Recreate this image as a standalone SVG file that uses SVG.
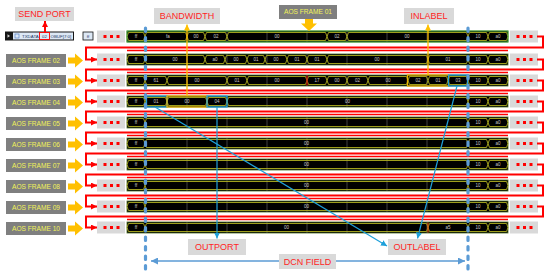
<svg xmlns="http://www.w3.org/2000/svg" width="550" height="280" viewBox="0 0 550 280">
<defs>
<style>
.lbl{fill:#D9D9D9}
.lt{font-family:"Liberation Sans",Arial,sans-serif;font-size:9px;fill:#FF1F1F;text-anchor:middle}
.frame{fill:#7F7F7F}
.ft{font-family:"Liberation Sans",Arial,sans-serif;font-size:6.6px;fill:#F2F25A;text-anchor:middle}
.oarrow{fill:#FFC000}
.sq{fill:#FF0000}
.band{fill:#000;stroke:#4A6B1F;stroke-width:0.8}
.grid{stroke:#5A5A5A;stroke-width:0.7}
.bus{fill:none;stroke:#B0B020;stroke-width:0.9}
.v{font-family:"Liberation Sans",Arial,sans-serif;font-size:4.5px;fill:#C8C8C8;text-anchor:middle}
.tx{font-family:"Liberation Sans",Arial,sans-serif;font-size:4.4px;fill:#1F3864}
.loop{fill:none;stroke:#FF0000;stroke-width:2}
.red2{stroke:#FF0000;stroke-width:1.6}
.dash{stroke:#5B9BD5;stroke-width:3.2;stroke-dasharray:3.5 6;stroke-linecap:round;fill:none}
.hlY{fill:none;stroke:#E8B000;stroke-width:1.3}
.hlB{fill:none;stroke:#1E9FD8;stroke-width:1.3}
.gold{fill:none;stroke:#FFC000;stroke-width:1.3}
.cyan{fill:none;stroke:#1EA0DA;stroke-width:1.2}
.dcn{fill:none;stroke:#5B9BD5;stroke-width:1.5}
</style>
<marker id="mRed" markerWidth="6" markerHeight="6" refX="6" refY="3" orient="auto" markerUnits="userSpaceOnUse"><path d="M0,0 L6,3 L0,6 z" fill="#FF0000"/></marker>
<marker id="mGold" markerWidth="6" markerHeight="6" refX="6" refY="3" orient="auto" markerUnits="userSpaceOnUse"><path d="M0,0 L6,3 L0,6 z" fill="#FFC000"/></marker>
<marker id="mCyan" markerWidth="6" markerHeight="6" refX="6" refY="3" orient="auto" markerUnits="userSpaceOnUse"><path d="M0,0 L6,3 L0,6 z" fill="#1EA0DA"/></marker>
<marker id="mBlue" markerWidth="7" markerHeight="7" refX="7" refY="3.5" orient="auto" markerUnits="userSpaceOnUse"><path d="M0,0 L7,3.5 L0,7 z" fill="#5B9BD5"/></marker>
<g id="dots"><rect class="lbl" x="0" y="-6" width="28" height="12"/><rect class="sq" x="6.5" y="-1.5" width="3" height="3"/><rect class="sq" x="13" y="-1.5" width="3" height="3"/><rect class="sq" x="19.5" y="-1.5" width="3" height="3"/></g>
<path id="oarr" class="oarrow" d="M-15,-3 h7 v-4 l8,7 l-8,7 v-4 h-7 z"/>
<rect id="fbox" class="frame" x="6" y="-6.5" width="60" height="13"/>
<g id="rowBase">
<rect class="band" x="127" y="-5.5" width="381" height="11"/>
<path class="grid" d="M187,-5.5v11M227,-5.5v11M267,-5.5v11M307,-5.5v11M347,-5.5v11M387,-5.5v11M427,-5.5v11"/>
<polygon class="bus" points="127,0 128.5,-4 143.5,-4 145,0 143.5,4 128.5,4"/>
<polygon class="bus" points="468,0 469.5,-4 486.5,-4 488,0 486.5,4 469.5,4"/>
<polygon class="bus" points="488,0 489.5,-4 506.5,-4 508,0 506.5,4 489.5,4"/>
<text class="v" x="136" y="1.6">ff</text>
<text class="v" x="478" y="1.6">10</text>
<text class="v" x="498" y="1.6">a0</text>
</g>
<g id="rowPlain">
<use href="#rowBase"/>
<polygon class="bus" points="145,0 146.5,-4 466.5,-4 468,0 466.5,4 146.5,4"/>
<text class="v" x="306.5" y="1.6">00</text>
</g>
</defs>

<rect x="0" y="0" width="550" height="280" fill="#FFFFFF"/>

<!-- waveform rows -->
<g id="row01" transform="translate(0,36.5)">
<use href="#rowBase"/>
<rect x="127" y="-5.5" width="381" height="11" fill="none" stroke="#3DAA3D" stroke-width="0.9"/>
<polygon class="bus" points="145,0 146.5,-4 185.5,-4 187,0 185.5,4 146.5,4"/>
<polygon class="bus" points="187,0 188.5,-4 203.5,-4 205,0 203.5,4 188.5,4"/>
<polygon class="bus" points="205,0 206.5,-4 225.5,-4 227,0 225.5,4 206.5,4"/>
<polygon class="bus" points="227,0 228.5,-4 325.5,-4 327,0 325.5,4 228.5,4"/>
<polygon class="bus" points="327,0 328.5,-4 345.5,-4 347,0 345.5,4 328.5,4"/>
<polygon class="bus" points="347,0 348.5,-4 466.5,-4 468,0 466.5,4 348.5,4"/>
<text class="v" x="168" y="1.6">fa</text>
<text class="v" x="196" y="1.6">00</text>
<text class="v" x="216" y="1.6">02</text>
<text class="v" x="277" y="1.6">00</text>
<text class="v" x="337" y="1.6">02</text>
<text class="v" x="407" y="1.6">00</text>
</g>
<g id="row02" transform="translate(0,59.5)">
<use href="#rowBase"/>
<polygon class="bus" points="145,0 146.5,-4 203.5,-4 205,0 203.5,4 146.5,4"/>
<polygon class="bus" points="205,0 206.5,-4 223.5,-4 225,0 223.5,4 206.5,4"/>
<polygon class="bus" points="225,0 226.5,-4 245.5,-4 247,0 245.5,4 226.5,4"/>
<polygon class="bus" points="247,0 248.5,-4 263.5,-4 265,0 263.5,4 248.5,4"/>
<polygon class="bus" points="265,0 266.5,-4 285.5,-4 287,0 285.5,4 266.5,4"/>
<polygon class="bus" points="287,0 288.5,-4 305.5,-4 307,0 305.5,4 288.5,4"/>
<polygon class="bus" points="307,0 308.5,-4 325.5,-4 327,0 325.5,4 308.5,4"/>
<polygon class="bus" points="327,0 328.5,-4 426.5,-4 428,0 426.5,4 328.5,4"/>
<polygon class="bus" points="428,0 429.5,-4 466.5,-4 468,0 466.5,4 429.5,4"/>
<text class="v" x="175" y="1.6">00</text>
<text class="v" x="215" y="1.6">a0</text>
<text class="v" x="236" y="1.6">00</text>
<text class="v" x="256" y="1.6">01</text>
<text class="v" x="276" y="1.6">00</text>
<text class="v" x="297" y="1.6">01</text>
<text class="v" x="317" y="1.6">01</text>
<text class="v" x="377" y="1.6">00</text>
<text class="v" x="448" y="1.6">01</text>
</g>
<g id="row03" transform="translate(0,80.5)">
<use href="#rowBase"/>
<polygon class="bus" points="145,0 146.5,-4 165.5,-4 167,0 165.5,4 146.5,4"/>
<polygon class="bus" points="167,0 168.5,-4 225.5,-4 227,0 225.5,4 168.5,4"/>
<polygon class="bus" points="227,0 228.5,-4 245.5,-4 247,0 245.5,4 228.5,4"/>
<polygon class="bus" points="247,0 248.5,-4 305.5,-4 307,0 305.5,4 248.5,4"/>
<polygon class="bus" points="307,0 308.5,-4 325.5,-4 327,0 325.5,4 308.5,4"/>
<polygon class="bus" points="327,0 328.5,-4 345.5,-4 347,0 345.5,4 328.5,4"/>
<polygon class="bus" points="347,0 348.5,-4 366.5,-4 368,0 366.5,4 348.5,4"/>
<polygon class="bus" points="368,0 369.5,-4 406.5,-4 408,0 406.5,4 369.5,4"/>
<polygon class="bus" points="408,0 409.5,-4 426.5,-4 428,0 426.5,4 409.5,4"/>
<polygon class="bus" points="428,0 429.5,-4 446.5,-4 448,0 446.5,4 429.5,4"/>
<polygon class="bus" points="448,0 449.5,-4 466.5,-4 468,0 466.5,4 449.5,4"/>
<path d="M307,-5v10" stroke="#C00000" stroke-width="1.2"/>
<text class="v" x="156" y="1.6">61</text>
<text class="v" x="197" y="1.6">00</text>
<text class="v" x="237" y="1.6">01</text>
<text class="v" x="277" y="1.6">00</text>
<text class="v" x="317" y="1.6">17</text>
<text class="v" x="337" y="1.6">00</text>
<text class="v" x="357.5" y="1.6">02</text>
<text class="v" x="388" y="1.6">00</text>
<text class="v" x="418" y="1.6">02</text>
<text class="v" x="438" y="1.6">01</text>
<text class="v" x="458" y="1.6">03</text>
</g>
<g id="row04" transform="translate(0,101.5)">
<use href="#rowBase"/>
<polygon class="bus" points="145,0 146.5,-4 165.5,-4 167,0 165.5,4 146.5,4"/>
<polygon class="bus" points="167,0 168.5,-4 205.5,-4 207,0 205.5,4 168.5,4"/>
<polygon class="bus" points="207,0 208.5,-4 225.5,-4 227,0 225.5,4 208.5,4"/>
<polygon class="bus" points="227,0 228.5,-4 466.5,-4 468,0 466.5,4 228.5,4"/>
<text class="v" x="156" y="1.6">01</text>
<text class="v" x="187" y="1.6">00</text>
<text class="v" x="217" y="1.6">04</text>
<text class="v" x="347.5" y="1.6">00</text>
</g>
<use id="row05" href="#rowPlain" transform="translate(0,122.5)"/>
<use id="row06" href="#rowPlain" transform="translate(0,143.5)"/>
<use id="row07" href="#rowPlain" transform="translate(0,164.5)"/>
<use id="row08" href="#rowPlain" transform="translate(0,185.5)"/>
<use id="row09" href="#rowPlain" transform="translate(0,206.5)"/>
<g id="row10" transform="translate(0,227.5)">
<use href="#rowBase"/>
<polygon class="bus" points="145,0 146.5,-4 426.5,-4 428,0 426.5,4 146.5,4"/>
<polygon class="bus" points="428,0 429.5,-4 466.5,-4 468,0 466.5,4 429.5,4"/>
<path d="M428,-5v10" stroke="#E05010" stroke-width="1.2"/>
<text class="v" x="286.5" y="1.6">00</text>
<text class="v" x="448" y="1.6">a5</text>
</g>

<!-- dots boxes -->
<g id="dotsLeft">
<use href="#dots" x="97" y="36.5"/><use href="#dots" x="97" y="59.5"/><use href="#dots" x="97" y="80.5"/><use href="#dots" x="97" y="101.5"/><use href="#dots" x="97" y="122.5"/><use href="#dots" x="97" y="143.5"/><use href="#dots" x="97" y="164.5"/><use href="#dots" x="97" y="185.5"/><use href="#dots" x="97" y="206.5"/><use href="#dots" x="97" y="227.5"/>
</g>
<g id="dotsRight">
<use href="#dots" x="510" y="36.5"/><use href="#dots" x="510" y="59.5"/><use href="#dots" x="510" y="80.5"/><use href="#dots" x="510" y="101.5"/><use href="#dots" x="510" y="122.5"/><use href="#dots" x="510" y="143.5"/><use href="#dots" x="510" y="164.5"/><use href="#dots" x="510" y="185.5"/><use href="#dots" x="510" y="206.5"/><use href="#dots" x="510" y="227.5"/>
</g>

<!-- highlights -->
<g id="highlights">
<rect class="hlY" x="407.5" y="75" width="41" height="11"/>
<rect class="hlB" x="448.5" y="75" width="19" height="11"/>
<rect class="hlB" x="146.5" y="96" width="20.5" height="11"/>
<rect class="hlY" x="167" y="96" width="40" height="11"/>
<rect class="hlB" x="207" y="96" width="20" height="11"/>
</g>

<!-- top-left signal row -->
<g id="txdata">
<rect x="5" y="31.5" width="69" height="9" fill="#151515"/>
<rect x="13" y="32.5" width="60" height="7" fill="#DDE8F5"/>
<polygon points="7.5,34.3 10,36 7.5,37.7" fill="#CCCCCC"/>
<rect x="15" y="34" width="4" height="4" fill="none" stroke="#4472C4" stroke-width="0.6"/>
<text class="tx" x="22" y="37.8">TXDATA</text>
<text class="tx" x="44.5" y="37.8" text-anchor="middle">02</text>
<text class="tx" x="50.5" y="37.8">OBUF[7:0]</text>
<rect x="39.5" y="32.5" width="10" height="7" fill="none" stroke="#FF0000" stroke-width="0.9"/>
</g>
<g id="ffbox">
<rect x="83" y="32" width="10" height="8" fill="#DDE8F5" stroke="#111111" stroke-width="0.8"/>
<text class="tx" x="88" y="37.6" text-anchor="middle">ff</text>
</g>

<!-- connectors -->
<g id="connectors">
<path class="loop" d="M537,36.5H543V47.5H86V59.5H97" marker-end="url(#mRed)"/>
<path class="loop" d="M537,59.5H543V69.5H86V80.5H97" marker-end="url(#mRed)"/>
<path class="loop" d="M537,80.5H543V90.5H86V101.5H97" marker-end="url(#mRed)"/>
<path class="loop" d="M537,101.5H543V111.5H86V122.5H97" marker-end="url(#mRed)"/>
<path class="loop" d="M537,122.5H543V132.5H86V143.5H97" marker-end="url(#mRed)"/>
<path class="loop" d="M537,143.5H543V153.5H86V164.5H97" marker-end="url(#mRed)"/>
<path class="loop" d="M537,164.5H543V174.5H86V185.5H97" marker-end="url(#mRed)"/>
<path class="loop" d="M537,185.5H543V195.5H86V206.5H97" marker-end="url(#mRed)"/>
<path class="loop" d="M537,206.5H543V216.5H86V227.5H97" marker-end="url(#mRed)"/>
<path class="red2" d="M127,50.5H508M127,72.5H508M127,93.5H508M127,114.5H508M127,135.5H508M127,156.5H508M127,177.5H508M127,198.5H508M127,219.5H508"/>
<path class="dash" d="M145.5,28V274M468,28V274"/>
<path class="loop" d="M45,32.5V21" stroke-width="1.3" marker-end="url(#mRed)"/>
<path class="gold" d="M187,96V24.5" marker-end="url(#mGold)"/>
<path class="gold" d="M428,75V24.5" marker-end="url(#mGold)"/>
<path class="cyan" d="M217,107V238.5" marker-end="url(#mCyan)"/>
<path class="cyan" d="M155,107L387,246" marker-end="url(#mCyan)"/>
<path class="cyan" d="M457,86L417.5,238.5" marker-end="url(#mCyan)"/>
<path class="dcn" d="M307,261H151" marker-end="url(#mBlue)"/>
<path class="dcn" d="M307,261H465" marker-end="url(#mBlue)"/>
<polygon class="oarrow" points="305,19 313,19 313,23.5 317,23.5 309,31 301,23.5 305,23.5"/>
<use href="#oarr" x="83" y="60.5"/><use href="#oarr" x="83" y="81.5"/><use href="#oarr" x="83" y="102.5"/><use href="#oarr" x="83" y="123.5"/><use href="#oarr" x="83" y="144.5"/><use href="#oarr" x="83" y="165.5"/><use href="#oarr" x="83" y="186.5"/><use href="#oarr" x="83" y="207.5"/><use href="#oarr" x="83" y="228.5"/>
</g>

<!-- labels -->
<g id="sendport"><rect class="lbl" x="15" y="7" width="59" height="14"/><text class="lt" x="44.5" y="17.2">SEND PORT</text></g>
<g id="bandwidth"><rect class="lbl" x="154" y="8" width="66" height="16"/><text class="lt" x="187" y="19.2">BANDWIDTH</text></g>
<g id="inlabel"><rect class="lbl" x="404" y="8" width="50" height="16"/><text class="lt" x="429" y="19.2">INLABEL</text></g>
<g id="outport"><rect class="lbl" x="188" y="239" width="58" height="16"/><text class="lt" x="217" y="250.2">OUTPORT</text></g>
<g id="outlabel"><rect class="lbl" x="388" y="239" width="58" height="16"/><text class="lt" x="417" y="250.2">OUTLABEL</text></g>
<g id="dcnfield"><rect class="lbl" x="279" y="254" width="57" height="15"/><text class="lt" x="307.5" y="264.7">DCN FIELD</text></g>
<g id="frame01"><rect class="frame" x="279" y="5" width="58" height="14"/><text class="ft" x="308" y="14.4">AOS FRAME 01</text></g>
<g id="frame02"><use href="#fbox" y="60.5"/><text class="ft" x="36" y="62.9">AOS FRAME 02</text></g>
<g id="frame03"><use href="#fbox" y="81.5"/><text class="ft" x="36" y="83.9">AOS FRAME 03</text></g>
<g id="frame04"><use href="#fbox" y="102.5"/><text class="ft" x="36" y="104.9">AOS FRAME 04</text></g>
<g id="frame05"><use href="#fbox" y="123.5"/><text class="ft" x="36" y="125.9">AOS FRAME 05</text></g>
<g id="frame06"><use href="#fbox" y="144.5"/><text class="ft" x="36" y="146.9">AOS FRAME 06</text></g>
<g id="frame07"><use href="#fbox" y="165.5"/><text class="ft" x="36" y="167.9">AOS FRAME 07</text></g>
<g id="frame08"><use href="#fbox" y="186.5"/><text class="ft" x="36" y="188.9">AOS FRAME 08</text></g>
<g id="frame09"><use href="#fbox" y="207.5"/><text class="ft" x="36" y="209.9">AOS FRAME 09</text></g>
<g id="frame10"><use href="#fbox" y="228.5"/><text class="ft" x="36" y="230.9">AOS FRAME 10</text></g>
</svg>
